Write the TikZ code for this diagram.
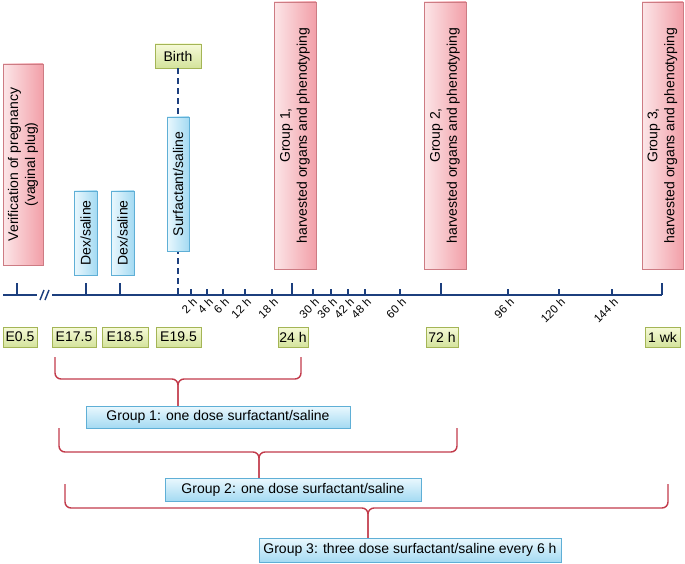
\documentclass[tikz,border=0pt]{standalone}
\usepackage{fontspec}
\setmainfont{Liberation Sans}
\usetikzlibrary{calc}

\definecolor{axisblue}{HTML}{1C3F7E}
\definecolor{bracered}{HTML}{C23B4B}
\definecolor{pinklight}{HTML}{FCE6E8}
\definecolor{pinkdark}{HTML}{F29FA8}
\definecolor{pinkline}{HTML}{CD7B83}
\definecolor{bluelight}{HTML}{EAF8FE}
\definecolor{bluedark}{HTML}{A4DAF2}
\definecolor{blueline}{HTML}{5FAFD6}
\definecolor{greenlight}{HTML}{F6FAD8}
\definecolor{greendark}{HTML}{D4E39C}
\definecolor{greenline}{HTML}{A4B556}

\tikzset{
	x=1pt, y=-1pt,
	boxtext/.style={font=\fontsize{14}{17}\selectfont, align=center, inner sep=0pt},
	redbox/.style={boxtext, draw=pinkline, left color=pinklight, right color=pinkdark, rotate=90},
	bluebox/.style={boxtext, draw=blueline, top color=bluelight, bottom color=bluedark},
	blueupbox/.style={boxtext, draw=blueline, left color=bluelight, right color=bluedark, rotate=90},
	greenbox/.style={boxtext, draw=greenline, top color=greenlight, bottom color=greendark, minimum height=20pt},
	axisline/.style={line width=1.8pt, color=axisblue},
	ticklabel/.style={rotate=45, anchor=north east, inner sep=0.2pt, font=\fontsize{11.5}{12}\selectfont},
	groupbrace/.style={line width=1.4pt, color=bracered, rounded corners=6pt},
}

\begin{document}
\begin{tikzpicture}
			%%%%% START %%%%%
			\useasboundingbox (0,0) rectangle (685,564);
			
			% time axis with break
			\draw[axisline] (3,295) -- (37,295);
			\draw[axisline, line width=1.4pt] (40,300) -- (44,290);
			\draw[axisline, line width=1.4pt] (45,300) -- (49,290);
			\draw[axisline] (52,295) -- (662,295);
			
			\foreach \x in {17,86,120,292,441,662}
				\draw[axisline] (\x,295) -- (\x,283);
			\foreach \x/\t in {191/2,207/4,223/6,245/12,272/18,313/30,331/36,348/42,365/48,400/60,508/96,559/120,612/144}{
				\draw[axisline] (\x,295) -- (\x,289);
				\node[ticklabel] at (\x+1,297) {\t\ h};
			}
			
			% birth
			\node[greenbox, minimum width=46pt, minimum height=24pt] (birth) at (178,56) {Birth};
			\draw[axisline, line width=1.4pt, dash pattern=on 6pt off 4pt] (birth.south) -- (178,295);
			
			% treatments and harvests
			\node[redbox, minimum width=201pt, minimum height=40pt] (verif) at (23,164.5) {Verification of pregnancy\\(vaginal plug)};
			\node[blueupbox, minimum width=84pt, minimum height=23pt] (dexa) at (85.5,233) {Dex/saline};
			\node[blueupbox, minimum width=84pt, minimum height=23pt] (dexb) at (122.5,233) {Dex/saline};
			\node[blueupbox, minimum width=134pt, minimum height=22pt] (surf) at (178,184) {Surfactant/saline};
			\node[redbox, minimum width=267pt, minimum height=42pt] (harva) at (295,135.5) {Group 1,\\harvested organs and phenotyping};
			\node[redbox, minimum width=267pt, minimum height=42pt] (harvb) at (445,135.5) {Group 2,\\harvested organs and phenotyping};
			\node[redbox, minimum width=267pt, minimum height=41pt] (harvc) at (662.5,135.5) {Group 3,\\harvested organs and phenotyping};
			
			% time points
			\node[greenbox, minimum width=34pt] (e05) at (20,337) {E0.5};
			\node[greenbox, minimum width=44pt] (e175) at (74,337) {E17.5};
			\node[greenbox, minimum width=46pt] (e185) at (125,337) {E18.5};
			\node[greenbox, minimum width=45pt] (e195) at (178.5,337) {E19.5};
			\node[greenbox, minimum width=30pt] (h24) at (293,337) {24 h};
			\node[greenbox, minimum width=32pt] (h72) at (442,337) {72 h};
			\node[greenbox, minimum width=35pt] (wk1) at (662.5,337) {1 wk};
			
			% groups
			\node[bluebox, minimum width=264pt, minimum height=22pt] (groupa) at (218,417) {Group 1: one dose surfactant/saline};
			\node[bluebox, minimum width=256pt, minimum height=23pt] (groupb) at (293,489.5) {Group 2: one dose surfactant/saline};
			\node[bluebox, minimum width=302pt, minimum height=24pt] (groupc) at (410,550) {Group 3: three dose surfactant/saline every 6 h};
			
			\draw[groupbrace] (55,357) |- (178,379) -- (178,0 |- groupa.north);
			\draw[groupbrace] (301,357) |- (178,379) -- (178,0 |- groupa.north);
			\draw[groupbrace] (59,428) |- (259,452) -- (259,0 |- groupb.north);
			\draw[groupbrace] (457,428) |- (259,452) -- (259,0 |- groupb.north);
			\draw[groupbrace] (65,484) |- (368,508) -- (368,0 |- groupc.north);
			\draw[groupbrace] (668,484) |- (368,508) -- (368,0 |- groupc.north);
			
			%%%%% END %%%%%
\end{tikzpicture}
\end{document}
